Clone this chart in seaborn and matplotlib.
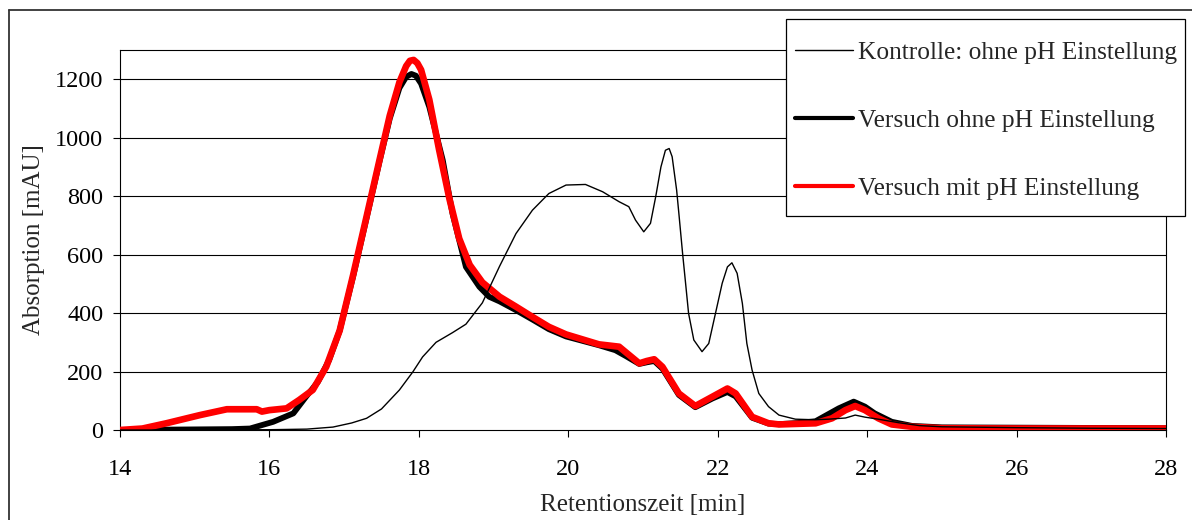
import matplotlib
matplotlib.use("Agg")
import matplotlib.pyplot as plt
from matplotlib.lines import Line2D
from matplotlib.patches import Rectangle
import seaborn as sns

# Retention time [min] and absorption [mAU] for the three chromatograms
kontrolle_t = [14.0, 15.0, 16.0, 16.5, 16.85, 17.1, 17.3, 17.5, 17.74, 17.92, 18.05, 18.23,
               18.45, 18.63, 18.85, 19.08, 19.3, 19.52, 19.74, 19.97, 20.23, 20.46, 20.68,
               20.81, 20.9, 21.01, 21.1, 21.17, 21.24, 21.3, 21.35, 21.39, 21.45, 21.48,
               21.53, 21.57, 21.61, 21.68, 21.79, 21.88, 21.97, 22.06, 22.13, 22.19, 22.26,
               22.33, 22.39, 22.46, 22.55, 22.68, 22.82, 23.04, 23.3, 23.48, 23.71, 23.84,
               23.97, 24.15, 24.42, 24.7, 25.0, 26.0, 27.0, 28.0]
kontrolle_a = [0, 0, 1, 3, 10, 24, 40, 72, 137, 199, 250, 300,
               333, 362, 435, 560, 672, 752, 809, 838, 840, 815, 781,
               764, 718, 678, 707, 798, 900, 957, 963, 935, 821, 741,
               604, 502, 399, 308, 268, 296, 399, 502, 558, 572, 536,
               433, 296, 205, 125, 80, 51, 37, 35, 37, 41, 51,
               44, 37, 25, 15, 11, 8, 6, 5]

ohne_ph_t = [14.0, 15.0, 15.5, 15.74, 16.05, 16.32, 16.49, 16.65, 16.8, 16.94, 17.12, 17.3,
             17.47, 17.61, 17.74, 17.83, 17.9, 17.96, 18.03, 18.14, 18.32, 18.45, 18.63, 18.81,
             18.94, 19.08, 19.3, 19.52, 19.74, 19.97, 20.19, 20.41, 20.63, 20.77, 20.95,
             21.06, 21.15, 21.26, 21.48, 21.7, 21.93, 22.13, 22.24, 22.46, 22.68, 22.82,
             23.08, 23.31, 23.62, 23.82, 23.97, 24.1, 24.33, 24.6, 25.0, 26.0, 27.0, 28.0]
ohne_ph_a = [0, 2, 3, 5, 28, 57, 114, 165, 240, 340, 525, 725,
             915, 1065, 1170, 1208, 1218, 1212, 1185, 1105, 923, 741, 558, 490,
             456, 440, 410, 378, 345, 320, 305, 290, 273, 253, 226,
             232, 236, 210, 120, 78, 108, 130, 115, 42, 22, 20,
             24, 30, 74, 97, 80, 57, 28, 14, 9, 8, 7, 6]

mit_ph_t = [14.0, 14.3, 14.62, 15.07, 15.43, 15.83, 15.9, 16.0, 16.23, 16.4, 16.58, 16.76,
            16.94, 17.12, 17.3, 17.47, 17.61, 17.74, 17.83, 17.88, 17.93, 17.98, 18.03,
            18.14, 18.27, 18.41, 18.54, 18.68, 18.85, 19.08, 19.3, 19.52, 19.74, 19.97,
            20.19, 20.41, 20.68, 20.95, 21.05, 21.15, 21.26, 21.48, 21.7, 21.93, 22.13,
            22.24, 22.46, 22.68, 22.82, 23.31, 23.53, 23.71, 23.84, 23.97, 24.15, 24.33,
            24.6, 25.0, 26.0, 27.0, 28.0]
mit_ph_a = [0, 5, 23, 51, 71, 71, 63, 68, 74, 103, 137, 216,
            340, 530, 730, 920, 1075, 1190, 1245, 1263, 1266, 1255, 1232,
            1130, 960, 790, 655, 565, 505, 456, 422, 387, 353, 327,
            310, 293, 285, 228, 236, 242, 216, 125, 82, 114, 142,
            125, 45, 23, 19, 23, 40, 68, 82, 68, 40, 19,
            11, 6, 5, 5, 5]

labels = ["Kontrolle: ohne pH Einstellung",
          "Versuch ohne pH Einstellung",
          "Versuch mit pH Einstellung"]
x_ticks = [14, 16, 18, 20, 22, 24, 26, 28]
y_ticks = [0, 200, 400, 600, 800, 1000, 1200]

sns.set_theme(style="white")
plt.rcParams["font.family"] = ["Liberation Serif", "DejaVu Serif"]

W, H = 1192, 520
fig = plt.figure(figsize=(W / 100, H / 100), dpi=100)
ax = fig.add_axes([120 / W, 1 - 430 / H, (1166 - 120) / W, (430 - 50) / H])

for yv in y_ticks[1:]:
    ax.axhline(yv, color="black", lw=0.8, zorder=0)

sns.lineplot(x=ohne_ph_t, y=ohne_ph_a, ax=ax, color="black", linewidth=4.2,
             sort=False, estimator=None, zorder=2)
sns.lineplot(x=mit_ph_t, y=mit_ph_a, ax=ax, color="#ff0000", linewidth=4.8,
             sort=False, estimator=None, zorder=3)
sns.lineplot(x=kontrolle_t, y=kontrolle_a, ax=ax, color="black", linewidth=1.0,
             sort=False, estimator=None, zorder=4)
for ln in ax.lines:
    ln.set_solid_joinstyle("round")
    ln.set_solid_capstyle("butt")

ax.set_xlim(14, 28)
ax.set_ylim(0, 1300)
ax.set_xticks(x_ticks)
ax.set_yticks(y_ticks)
ax.tick_params(axis="both", direction="out", length=5, width=0.8, colors="black",
               labelsize=17.5)
ax.tick_params(axis="x", pad=16)
ax.tick_params(axis="y", pad=7)
ax.tick_params(bottom=True, left=True)
for sp in ax.spines.values():
    sp.set_visible(True)
    sp.set_color("black")
    sp.set_linewidth(0.8)

ax.set_xlabel("Retentionszeit [min]", fontsize=18, labelpad=10)
ax.set_ylabel("Absorption [mAU]", fontsize=18, labelpad=7)

# legend box
fig.add_artist(Rectangle((786 / W, 1 - 216 / H), (1185 - 786) / W, (216 - 19) / H,
                         transform=fig.transFigure, facecolor="white",
                         edgecolor="black", lw=0.9, zorder=4))
handles = [Line2D([], [], color="black", lw=1.0),
           Line2D([], [], color="black", lw=3.0),
           Line2D([], [], color="#ff0000", lw=3.0)]
leg = fig.legend(handles, labels, loc="upper left",
                 bbox_to_anchor=(795 / W, 1 - 41 / H),
                 borderaxespad=0, frameon=False,
                 fontsize=18.3, handlelength=2.28, handletextpad=0.2,
                 labelspacing=1.78, borderpad=0)
leg.set_zorder(5)

# chart-area frame (runs off the right and bottom edges)
x0 = 9 / W
y0 = 1 - 10 / H
fig.add_artist(Line2D([x0, x0], [-0.05, y0], transform=fig.transFigure,
                      color="#333333", lw=1.3))
fig.add_artist(Line2D([x0, 1.05], [y0, y0], transform=fig.transFigure,
                      color="#333333", lw=1.3))

fig.savefig("out.png", dpi=100, facecolor="white")
